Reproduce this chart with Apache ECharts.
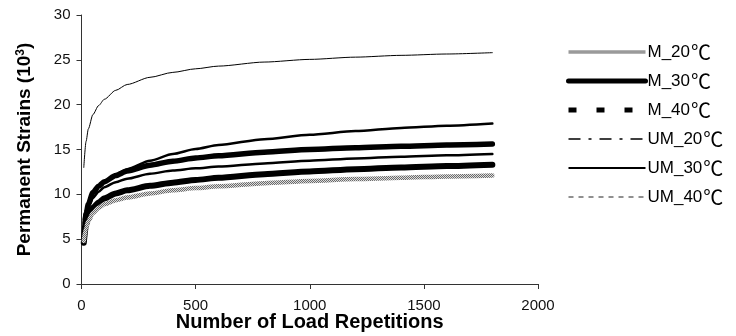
<!DOCTYPE html>
<html>
<head>
<meta charset="utf-8">
<script src="https://cdn.jsdelivr.net/npm/echarts@6/dist/echarts.min.js"></script>
<style>
  html, body { margin: 0; padding: 0; background: #fff; }
  #chart { width: 736px; height: 336px; }
</style>
</head>
<body>
<div id="chart"></div>
<script>
// Load repetitions at which strain was recorded
const repetitions = [10, 20, 30, 50, 75, 100, 150, 200, 300, 400, 500, 600, 800, 1000, 1200, 1400, 1600, 1800];

// Permanent strains (10^3) for each mix / temperature
const m20  = [4.8, 6.3, 7.0, 7.9, 8.5, 8.9, 9.35, 9.65, 10.1, 10.45, 10.7, 10.9, 11.25, 11.5, 11.7, 11.85, 12.0, 12.1];
const m30  = [4.6, 6.6, 7.4, 8.5, 9.1, 9.55, 10.1, 10.45, 10.95, 11.3, 11.6, 11.85, 12.25, 12.55, 12.8, 13.0, 13.15, 13.3];
const m40  = [4.8, 7.8, 8.9, 10.2, 10.9, 11.4, 12.1, 12.6, 13.25, 13.7, 14.05, 14.3, 14.7, 15.0, 15.2, 15.35, 15.5, 15.6];
const um20 = [6.8, 8.0, 8.6, 9.6, 10.3, 10.8, 11.35, 11.75, 12.3, 12.65, 12.9, 13.1, 13.45, 13.75, 14.0, 14.2, 14.35, 14.5];
const um30 = [7.2, 8.3, 9.0, 10.1, 10.9, 11.4, 12.2, 12.8, 13.75, 14.5, 15.05, 15.5, 16.15, 16.65, 17.05, 17.4, 17.65, 17.9];
const um40 = [13.0, 15.9, 17.3, 18.9, 19.9, 20.6, 21.6, 22.25, 23.05, 23.6, 24.0, 24.3, 24.75, 25.05, 25.3, 25.5, 25.65, 25.8];

const mixNames = ['M_20', 'M_30', 'M_40', 'UM_20', 'UM_30', 'UM_40'];
const seriesNames = mixNames.map(n => n + '℃');
const seriesValues = [m20, m30, m40, um20, um30, um40];

const xTicks = [0, 500, 1000, 1500, 2000];
const yTicks = [0, 5, 10, 15, 20, 25, 30];

// Checkered grey stroke used for the M_20 curve
function checkerPattern() {
  const c = document.createElement('canvas');
  c.width = 2; c.height = 2;
  const g = c.getContext('2d');
  g.fillStyle = '#dcdcdc'; g.fillRect(0, 0, 2, 2);
  g.fillStyle = '#6a6a6a'; g.fillRect(0, 0, 1, 1); g.fillRect(1, 1, 1, 1);
  return { image: c, repeat: 'repeat' };
}

// Stroke styles used on the plot and in the legend keys
const plotStyles = [
  { color: checkerPattern(), width: 4.5 },
  { color: '#000', width: 6 },
  { color: '#000', width: 5.5 },
  { color: '#000', width: 2.5 },
  { color: '#000', width: 2.5 },
  { color: '#000', width: 1 }
];
const legendStyles = [
  { color: '#9a9a9a', width: 3.5, type: 'solid', cap: 'butt' },
  { color: '#000', width: 5, type: 'solid', cap: 'round' },
  { color: '#000', width: 5, type: [8, 20], cap: 'butt' },
  { color: '#000', width: 1.5, type: [12, 8, 3, 8], cap: 'butt' },
  { color: '#000', width: 2, type: 'solid', cap: 'butt' },
  { color: '#222', width: 1, type: [5, 5], cap: 'butt' }
];

const series = seriesNames.map((name, i) => ({
  name: name,
  type: 'line',
  symbol: 'none',
  smooth: 0.25,
  smoothMonotone: 'x',
  data: repetitions.map((r, j) => [r, seriesValues[i][j]]),
  lineStyle: {
    color: plotStyles[i].color,
    width: plotStyles[i].width,
    cap: 'round',
    join: 'round'
  },
  itemStyle: { color: i === 0 ? '#999' : '#000' },
  z: 10 - i
}));

const chart = echarts.init(document.getElementById('chart'), null, { renderer: 'canvas' });
chart.setOption({
  animation: false,
  backgroundColor: '#fff',
  textStyle: { fontFamily: 'Liberation Sans, Arial, sans-serif' },
  grid: { left: 81.5, right: 198, top: 15, bottom: 52, containLabel: false, outerBoundsMode: 'none' },
  xAxis: {
    type: 'value',
    min: xTicks[0],
    max: xTicks[xTicks.length - 1],
    interval: xTicks[1] - xTicks[0],
    name: 'Number of Load Repetitions',
    nameLocation: 'middle',
    nameGap: 28,
    nameMoveOverlap: false,
    nameTextStyle: { fontSize: 20, fontWeight: 'bold', color: '#000' },
    axisLine: { show: true, onZero: false, lineStyle: { color: '#333', width: 1 } },
    axisTick: { show: true, inside: false, length: 5, lineStyle: { color: '#333' } },
    axisLabel: { fontSize: 15, color: '#111', margin: 14, formatter: v => String(v) },
    splitLine: { show: false }
  },
  yAxis: {
    type: 'value',
    min: yTicks[0],
    max: yTicks[yTicks.length - 1],
    interval: yTicks[1] - yTicks[0],
    name: 'Permanent Strains (10{sup|3})',
    nameLocation: 'middle',
    nameGap: 47,
    nameMoveOverlap: false,
    nameTextStyle: {
      fontSize: 19, fontWeight: 'bold', color: '#000',
      rich: { sup: { fontSize: 12, fontWeight: 'bold', verticalAlign: 'top', padding: [0, 0, 8, 0] } }
    },
    axisLine: { show: true, onZero: false, lineStyle: { color: '#333', width: 1 } },
    axisTick: { show: true, inside: false, length: 5, lineStyle: { color: '#333' } },
    axisLabel: { fontSize: 15, color: '#111', margin: 11, formatter: v => String(v) },
    splitLine: { show: false }
  },
  legend: {
    orient: 'vertical',
    left: 566,
    top: 42,
    padding: 0,
    itemWidth: 77,
    itemHeight: 14,
    itemGap: 9,
    formatter: name => '{a|' + name.replace('℃', '') + '}{b|℃}',
    textStyle: {
      color: '#000',
      lineHeight: 16,
      padding: [0, 0, 0, -3],
      rich: {
        a: { fontSize: 17, lineHeight: 16, color: '#000', fontFamily: 'Liberation Sans, Arial, sans-serif' },
        b: { fontSize: 20, lineHeight: 16, color: '#000', fontFamily: 'Noto Sans CJK SC, DejaVu Sans, sans-serif', padding: [0, 0, 0, 1] }
      }
    },
    data: seriesNames.map((name, i) => ({
      name: name,
      itemStyle: { opacity: 0 },
      lineStyle: {
        color: legendStyles[i].color,
        width: legendStyles[i].width,
        type: legendStyles[i].type,
        cap: legendStyles[i].cap
      }
    }))
  },
  series: series
});
</script>
</body>
</html>
